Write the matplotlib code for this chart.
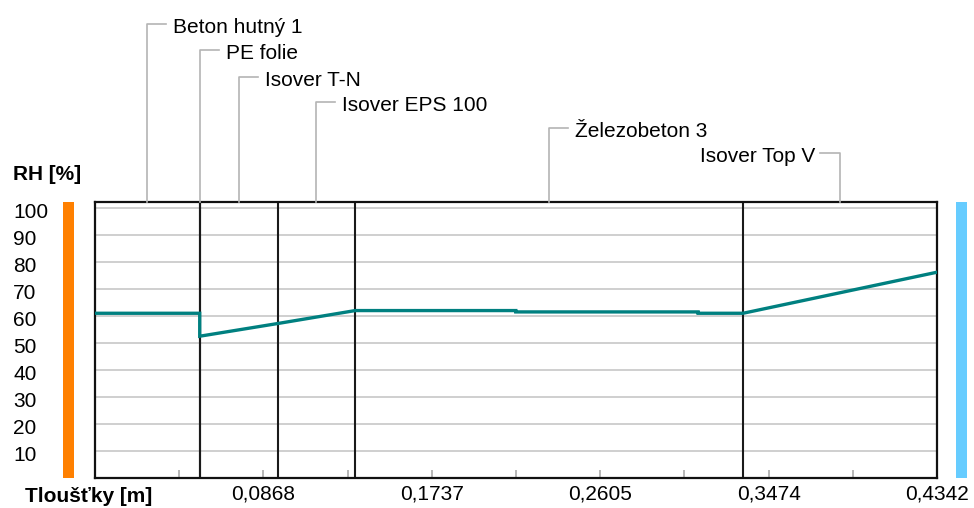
import numpy as np
import matplotlib
matplotlib.use("Agg")
import matplotlib.pyplot as plt
from matplotlib import transforms
from matplotlib.lines import Line2D
from matplotlib.patches import Rectangle

plt.rcParams['font.family'] = ['Liberation Sans', 'DejaVu Sans']

# layers of the wall (name, thickness in m)
layer_names = ["Beton hutný 1", "PE folie", "Isover T-N", "Isover EPS 100",
               "Železobeton 3", "Isover Top V"]
layer_thick = [0.054, 0.0002, 0.04, 0.04, 0.2, 0.1]

# relative humidity profile
rh_x = [0.0, 0.054, 0.054, 0.0942, 0.1342, 0.217, 0.217, 0.311, 0.311, 0.3342, 0.4342]
rh_val = [61.0, 61.0, 52.5, 57.2, 62.0, 62.0, 61.5, 61.5, 61.0, 61.0, 76.2]

rh_ticks = [10, 20, 30, 40, 50, 60, 70, 80, 90, 100]

W, H = 974, 508
fig = plt.figure(figsize=(W / 100, H / 100), dpi=100)
ax = fig.add_axes([95 / W, 30 / H, 842 / W, 276 / H])

edges = np.concatenate([[0.0], np.cumsum(layer_thick)])
total = edges[-1]
ax.set_xlim(0, total)
ax.set_ylim(0, 102.2)

for v in rh_ticks:
    ax.axhline(v, color='#cccccc', lw=1.3, zorder=1)
for e in edges[1:-1]:
    ax.axvline(e, color='#1a1a1a', lw=1.5, zorder=2)

ax.plot(rh_x, rh_val, color='#008080', lw=2.4, zorder=3, solid_joinstyle='miter')

for s in ax.spines.values():
    s.set_linewidth(1.6)
    s.set_color('#111111')

# x ticks every tenth, labels every fifth
k = np.arange(1, 11)
ax.set_xticks(total * k / 10)
ax.set_xticklabels([f"{total * i / 10:.4f}".replace('.', ',') if i % 2 == 0 else '' for i in k])
ax.tick_params(axis='x', direction='in', length=6, color='#aaaaaa', width=1.2,
               pad=5, labelsize=15)
ax.set_yticks([])

# y labels, left aligned at the figure edge
ytr = transforms.blended_transform_factory(fig.transFigure, ax.transData)
ytr = ytr + transforms.ScaledTranslation(0, -5 / 100, fig.dpi_scale_trans)
for v in rh_ticks:
    ax.text(13 / W, v, str(v), transform=ytr, ha='left', va='center', fontsize=15)

fig.text(13 / W, 1 - 175 / H, 'RH [%]', fontweight='bold', fontsize=15, va='center', ha='left')
fig.text(25 / W, 1 - 496 / H, 'Tloušťky [m]', fontweight='bold', fontsize=15, va='center', ha='left')

# inside / outside colour bars
fig.add_artist(Rectangle((63 / W, 30 / H), 11 / W, 276 / H, transform=fig.transFigure,
                         color='#ff8000', lw=0))
fig.add_artist(Rectangle((956 / W, 30 / H), 11 / W, 276 / H, transform=fig.transFigure,
                         color='#66ccff', lw=0))

# layer name leaders
rows = [24, 50, 77, 102, 128, 153]
sides = ['r', 'r', 'r', 'r', 'r', 'l']
gray = '#b4b4b4'
for i, name in enumerate(layer_names):
    mid = (edges[i] + edges[i + 1]) / 2
    px = ax.transData.transform((mid, 0))[0]
    row = rows[i]
    d = 19 if sides[i] == 'r' else -20
    fig.add_artist(Line2D([px / W, px / W, (px + d) / W],
                          [1 - 202 / H, 1 - row / H, 1 - row / H],
                          transform=fig.transFigure, color=gray, lw=1.2))
    if sides[i] == 'r':
        fig.text((px + d + 7) / W, 1 - (row + 9) / H, name, fontsize=15,
                 ha='left', va='baseline')
    else:
        fig.text((px + d - 5) / W, 1 - (row + 9) / H, name, fontsize=15,
                 ha='right', va='baseline')

fig.savefig('out.png', dpi=100)
